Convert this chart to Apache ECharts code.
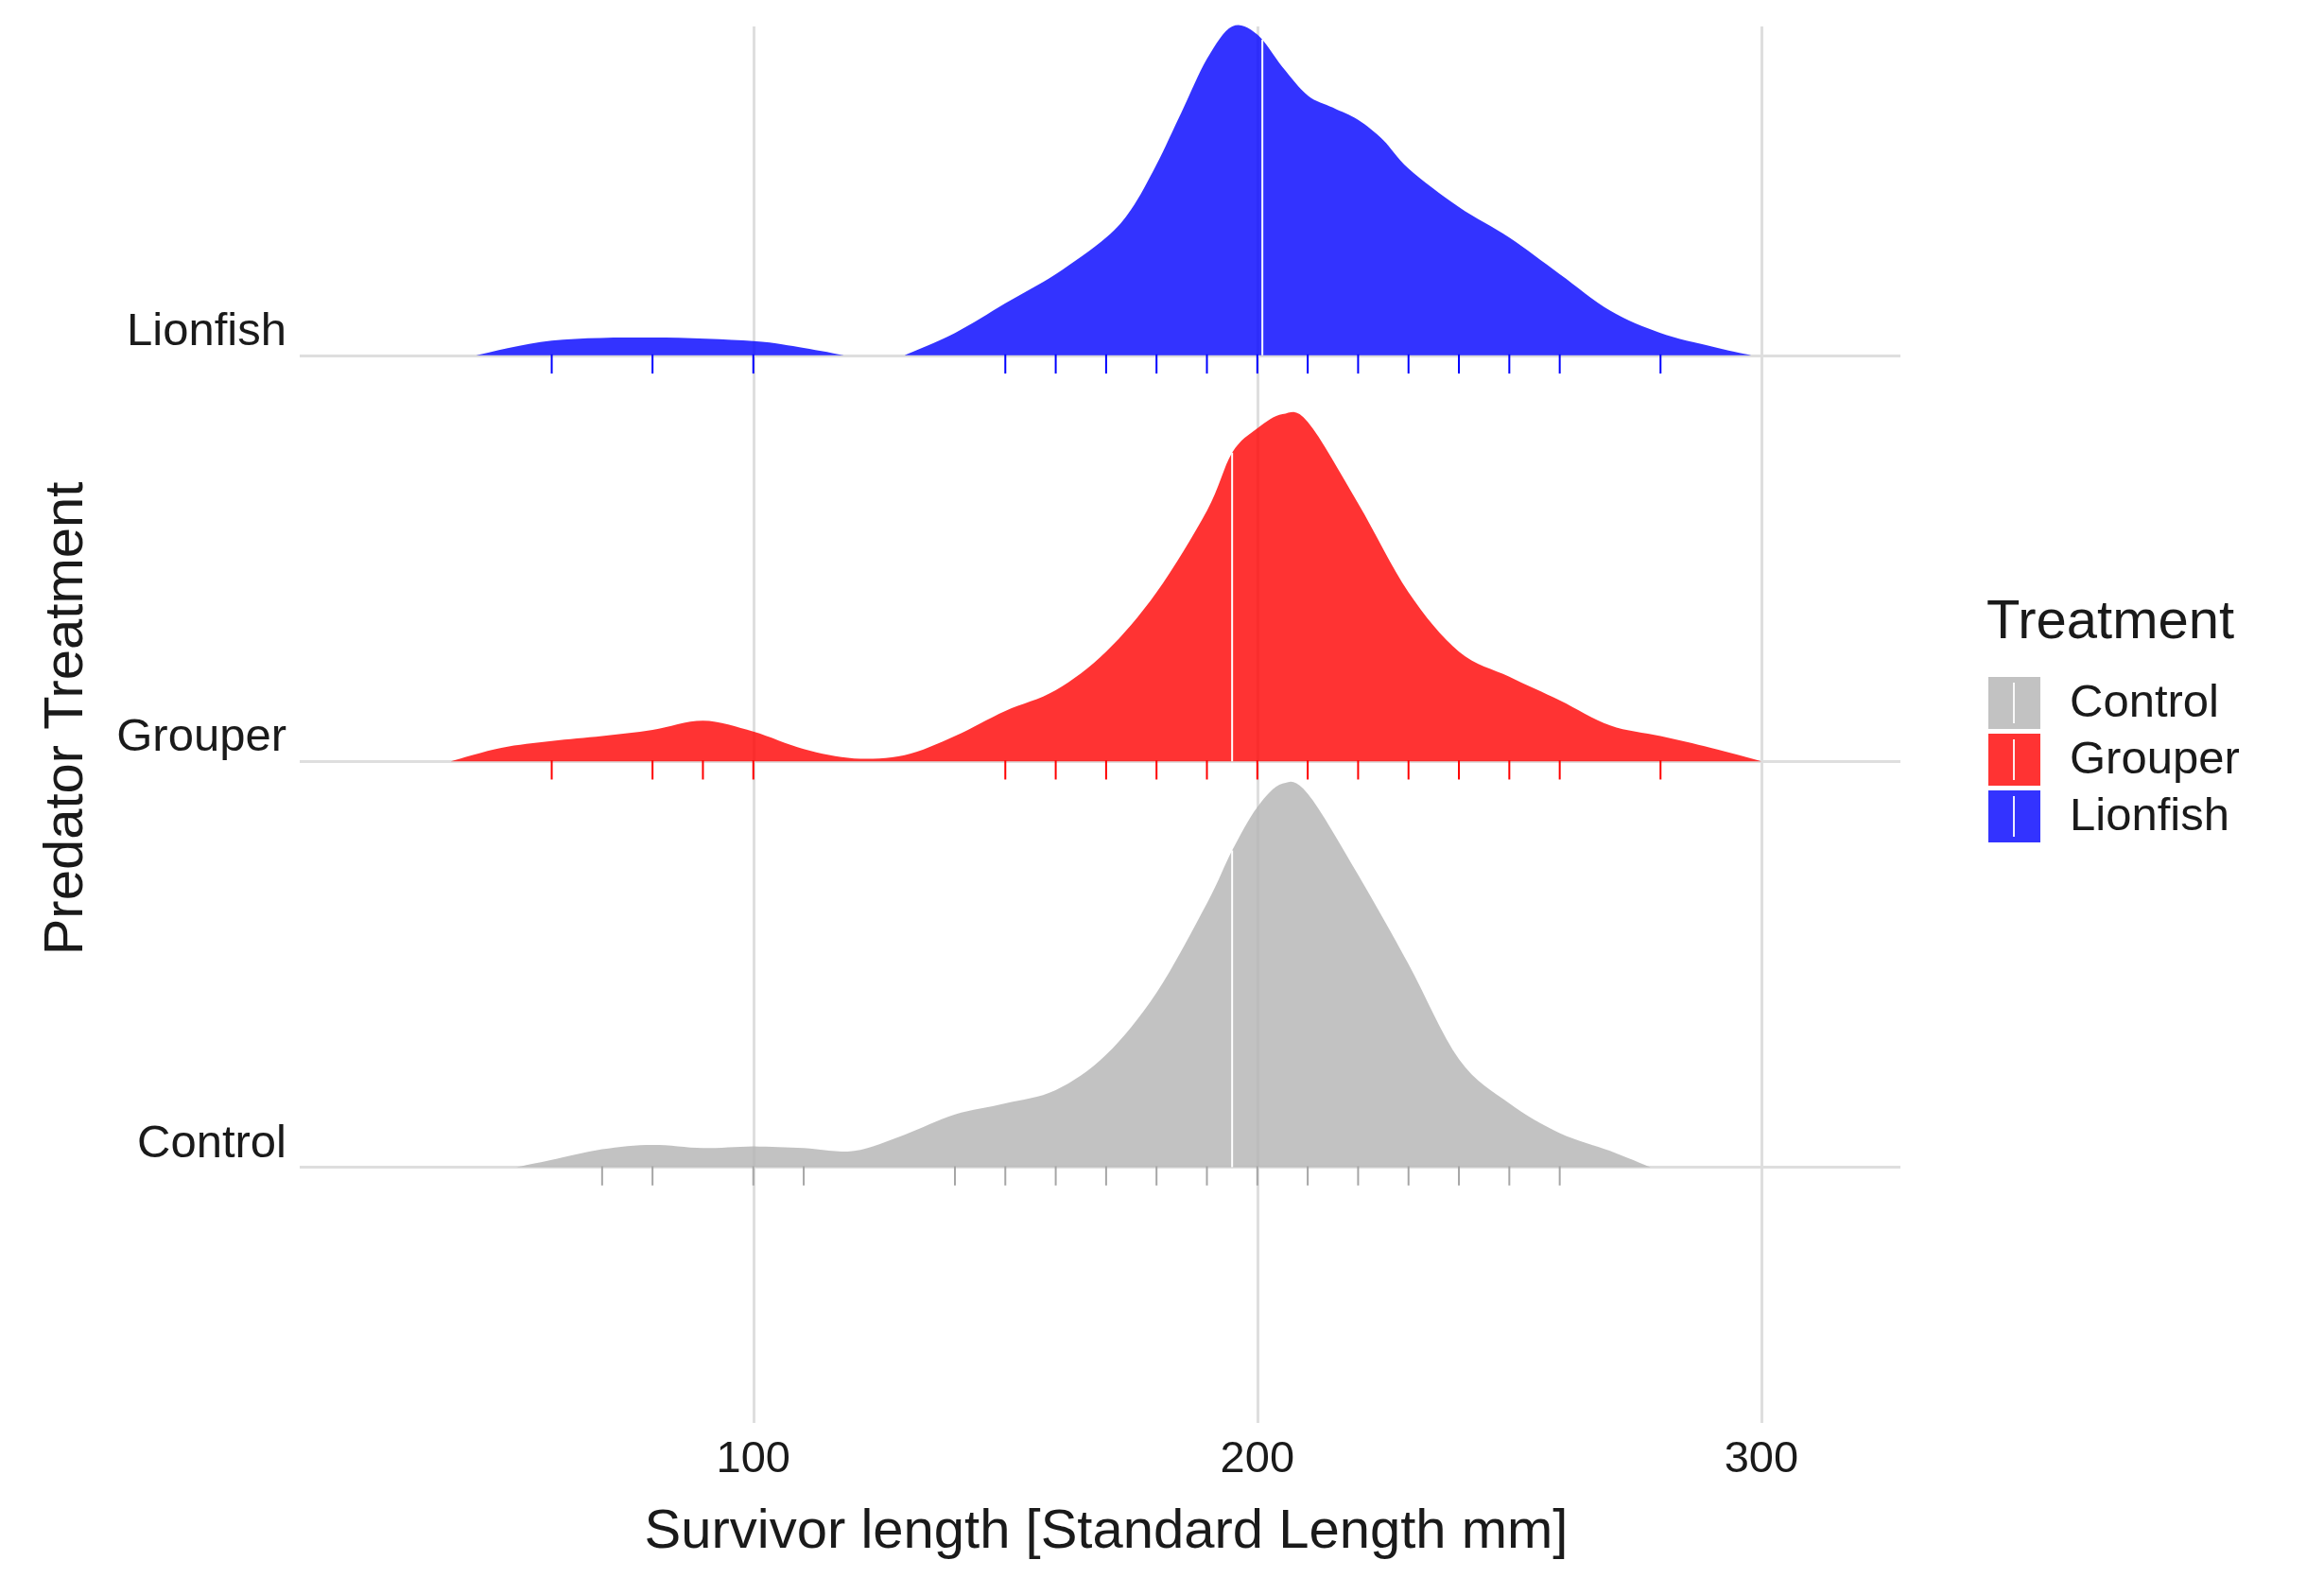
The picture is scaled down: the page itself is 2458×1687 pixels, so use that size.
<!DOCTYPE html>
<html><head><meta charset="utf-8">
<script src="https://cdn.jsdelivr.net/npm/echarts@6/dist/echarts.min.js"></script>
<style>html,body{margin:0;padding:0;background:#fff}#c{width:2458px;height:1687px}</style>
</head><body><div id="c"></div>
<script>
const categories = ['Control', 'Grouper', 'Lionfish'];
const xTicks = [100, 200, 300];
// density curves: [length, height] (height in row units)
const controlDensity = [[53,0],[60,0.018],[70,0.044],[80,0.055],[90,0.047],[100,0.051],[110,0.047],[120,0.04],[130,0.08],[140,0.13],[150,0.157],[160,0.19],[170,0.277],[180,0.43],[190,0.65],[195,0.78],[200,0.887],[205,0.945],[210,0.92],[220,0.72],[230,0.5],[240,0.266],[250,0.157],[260,0.084],[270,0.04],[278,0]];
const grouperDensity = [[40,0],[50,0.033],[60,0.05],[70,0.062],[80,0.077],[90,0.1],[100,0.073],[110,0.03],[120,0.007],[130,0.015],[140,0.062],[150,0.124],[160,0.175],[170,0.27],[180,0.416],[190,0.617],[195,0.76],[200,0.82],[205,0.855],[210,0.836],[220,0.635],[230,0.416],[240,0.27],[250,0.208],[260,0.15],[270,0.088],[280,0.062],[290,0.033],[300,0]];
const lionfishDensityA = [[45,0],[60,0.036],[80,0.044],[100,0.035],[110,0.018],[118,0]];
const lionfishDensityB = [[130,0],[140,0.055],[150,0.128],[160,0.2],[170,0.29],[175,0.36],[180,0.47],[185,0.6],[190,0.73],[195,0.81],[200,0.79],[205,0.71],[210,0.64],[215,0.61],[220,0.58],[225,0.53],[230,0.46],[240,0.365],[250,0.29],[260,0.2],[270,0.11],[280,0.055],[290,0.022],[298,0]];
const controlRug = [70,80,100,110,140,150,160,170,180,190,200,210,220,230,240,250,260];
const grouperRug = [60,80,90,100,150,160,170,180,190,200,210,220,230,240,250,260,280];
const lionfishRug = [60,80,100,150,160,170,180,190,200,210,220,230,240,250,260,280];
const medians = [195, 195, 201];

const groups = [
  {name:'Control', base:0, parts:[controlDensity], rug:controlRug, median:medians[0], fill:'rgba(179,179,179,0.8)', rugColor:'#a6a6a6'},
  {name:'Grouper', base:1, parts:[grouperDensity], rug:grouperRug, median:medians[1], fill:'rgba(255,0,0,0.8)', rugColor:'#ff0000'},
  {name:'Lionfish', base:2, parts:[lionfishDensityA, lionfishDensityB], rug:lionfishRug, median:medians[2], fill:'rgba(0,0,255,0.8)', rugColor:'#0000ff'}
];
// Catmull-Rom smoothing of the read points, for drawing only
function smooth(p){
  const out=[];
  for(let i=0;i<p.length-1;i++){
    const p0=p[Math.max(i-1,0)], p1=p[i], p2=p[i+1], p3=p[Math.min(i+2,p.length-1)];
    for(let s=0;s<8;s++){
      const t=s/8, t2=t*t, t3=t2*t;
      const f=(a,b,c,d)=>0.5*((2*b)+(-a+c)*t+(2*a-5*b+4*c-d)*t2+(-a+3*b-3*c+d)*t3);
      out.push([f(p0[0],p1[0],p2[0],p3[0]), Math.max(0,f(p0[1],p1[1],p2[1],p3[1]))]);
    }
  }
  out.push(p[p.length-1]);
  return out;
}
function interp(parts, x){
  for(const q of parts){const p=smooth(q);for(let i=0;i<p.length-1;i++){if(x>=p[i][0]&&x<=p[i+1][0]){const t=(x-p[i][0])/(p[i+1][0]-p[i][0]);return p[i][1]+t*(p[i+1][1]-p[i][1]);}}}
  return 0;
}
const chart = echarts.init(document.getElementById('c'));
const FONT = 'Liberation Sans, Arial, sans-serif';
const series = [{
  type:'line', data:[], silent:true, z:1,
  markLine:{silent:true, symbol:'none', label:{show:false}, lineStyle:{color:'#dedede', width:3, type:'solid'},
    data: xTicks.map(v=>({xAxis:v})).concat(groups.map(g=>({yAxis:g.base})))}
}];
groups.forEach((g, gi)=>{
  series.push({
    type:'custom', z:5+gi, data:[[0]],
    renderItem:(params, api)=>{
      const ch=[];
      g.parts.forEach(p=>{
        const sp=smooth(p);
        const pts=sp.map(d=>api.coord([d[0], g.base+d[1]]));
        pts.push(api.coord([p[p.length-1][0], g.base]));
        pts.push(api.coord([p[0][0], g.base]));
        ch.push({type:'polygon', shape:{points:pts}, style:{fill:g.fill}});
      });
      const m0=api.coord([g.median, g.base]), m1=api.coord([g.median, g.base+interp(g.parts,g.median)]);
      ch.push({type:'line', shape:{x1:m0[0],y1:m0[1],x2:m1[0],y2:m1[1]}, style:{stroke:'#ffffff', lineWidth:2}});
      g.rug.forEach(r=>{
        const a=api.coord([r, g.base]), b=api.coord([r, g.base-0.045]);
        ch.push({type:'line', shape:{x1:a[0],y1:a[1]-1,x2:b[0],y2:b[1]}, style:{stroke:g.rugColor, lineWidth:2}});
      });
      return {type:'group', children:ch};
    }
  });
});
const legendX=2103, legendY0=716, step=60;
const graphic=[
  {type:'text', x:1170, y:1621, style:{text:'Survivor length [Standard Length mm]', font:'58px '+FONT, fill:'#1a1a1a', align:'center', verticalAlign:'middle'}},
  {type:'text', x:71, y:760, rotation:Math.PI/2, style:{text:'Predator Treatment', font:'58px '+FONT, fill:'#1a1a1a', align:'center', verticalAlign:'middle'}},
  {type:'text', x:2101, y:659, style:{text:'Treatment', font:'58px '+FONT, fill:'#1a1a1a', verticalAlign:'middle'}}
];
groups.forEach((g,i)=>{
  const y=legendY0+i*step;
  graphic.push({type:'rect', shape:{x:legendX, y:y, width:55, height:55}, style:{fill:g.fill}});
  graphic.push({type:'line', shape:{x1:legendX+27, y1:y+6, x2:legendX+27, y2:y+49}, style:{stroke:'rgba(255,255,255,0.9)', lineWidth:2}});
  graphic.push({type:'text', x:2189, y:y+28, style:{text:g.name, font:'49px '+FONT, fill:'#1a1a1a', verticalAlign:'middle'}});
});
chart.setOption({
  animation:false, backgroundColor:'#fff',
  grid:{left:317, right:448, top:28, bottom:182},
  xAxis:{type:'value', min:10, max:327.6, splitLine:{show:false}, axisLine:{show:false}, axisTick:{show:false},
    axisLabel:{customValues:xTicks, fontSize:47, fontFamily:FONT, color:'#1a1a1a', margin:16}},
  yAxis:{type:'value', min:-0.63, max:2.81, splitLine:{show:false}, axisLine:{show:false}, axisTick:{show:false},
    axisLabel:{customValues:[0,1,2], formatter:v=>categories[Math.round(v)]||'', fontSize:49, fontFamily:FONT, color:'#1a1a1a', margin:14, verticalAlign:'bottom'}},
  series:series, graphic:graphic
});
</script></body></html>
